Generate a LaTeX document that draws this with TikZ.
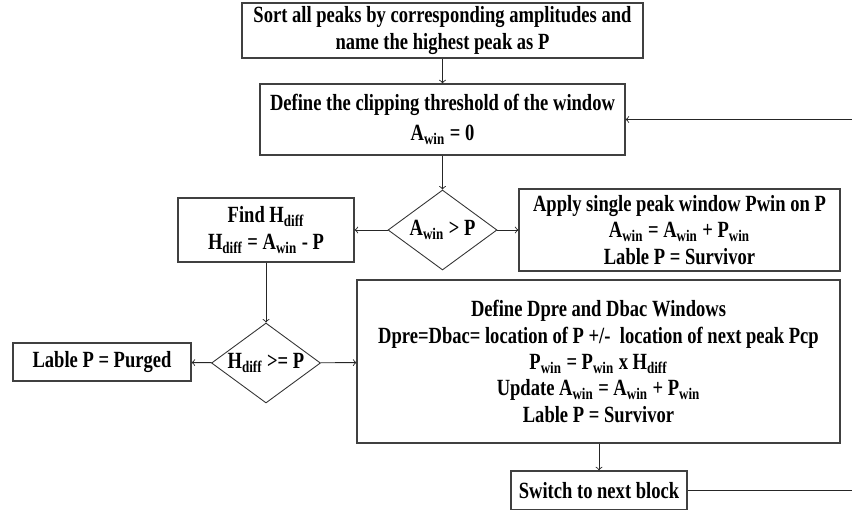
\documentclass[tikz,border=0pt]{standalone}
\usepackage{fontspec}
\setmainfont{Liberation Serif}[FakeStretch=0.8]
\usepackage{tikz}
\usetikzlibrary{arrows,shapes.geometric}
\usepackage{xcolor}

\newcommand{\sub}[1]{\textsubscript{#1}}

\begin{document}
\begin{tikzpicture}[x=0.02cm,y=-0.02cm,
        box/.style={draw=black!75, line width=0.7pt, rectangle, align=center, inner sep=0pt,
            font=\fontsize{13.2}{15}\selectfont\bfseries},
        test/.style={draw=black!80, line width=0.5pt, diamond, aspect=1.36, inner sep=0pt,
            minimum width=2.18cm, minimum height=1.6cm, font=\fontsize{13.2}{15}\selectfont\bfseries},
        link/.style={->, draw=black!85, line width=0.5pt}]
        \useasboundingbox (0,0) rectangle (852,510);

        % main column
        \node[box, minimum width=8.02cm, minimum height=1.10cm] (sort) at (442.5,30.5)
            {Sort all peaks by corresponding amplitudes and\\name the highest peak as P};
        \node[box, minimum width=7.30cm, minimum height=1.42cm] (clip) at (442.5,119.5)
            {Define the clipping threshold of the window\\[2pt]A\sub{win} = 0};
        \node[test] (cmpA) at (442.5,230) {A\sub{win} > P};
        \node[box, minimum width=6.42cm, minimum height=1.64cm] (apply) at (679.5,230)
            {Apply single peak window Pwin on P\\A\sub{win} = A\sub{win} + P\sub{win}\\Lable P = Survivor};

        % left branch
        \node[box, minimum width=3.52cm, minimum height=1.28cm] (hdiff) at (266,230)
            {Find H\sub{diff}\\H\sub{diff} = A\sub{win} - P};
        \node[test] (cmpH) at (266,363) {H\sub{diff} >= P};
        \node[box, minimum width=3.56cm, minimum height=0.76cm] (purge) at (102,362)
            {Lable P = Purged};

        % window update
        \node[box, minimum width=9.66cm, minimum height=3.26cm] (dwin) at (598.5,361.5)
            {Define Dpre and Dbac Windows\\
             Dpre=Dbac= location of P +/-~ location of next peak Pcp\\
             P\sub{win} = P\sub{win} x H\sub{diff}\\
             Update A\sub{win} = A\sub{win} + P\sub{win}\\
             Lable P = Survivor};
        \node[box, minimum width=3.52cm, minimum height=0.78cm] (next) at (599,490.5)
            {Switch to next block};

        % loop ends at the border
        \coordinate (loopin) at (852,119.5);
        \coordinate (loopout) at (852,490.5);

        \draw[link] (sort) -- (clip);
        \draw[link] (clip) -- (cmpA);
        \draw[link] (cmpA) -- (apply);
        \draw[link] (cmpA) -- (hdiff);
        \draw[link] (hdiff) -- (cmpH);
        \draw[link] (cmpH) -- (purge);
        \draw[link] (cmpH) -- (dwin);
        \draw[link] (dwin.south -| next) -- (next);
        \draw[-, draw=black!85, line width=0.5pt] (next) -- (loopout);
        \draw[link] (loopin) -- (clip);
    \end{tikzpicture}
\end{document}
